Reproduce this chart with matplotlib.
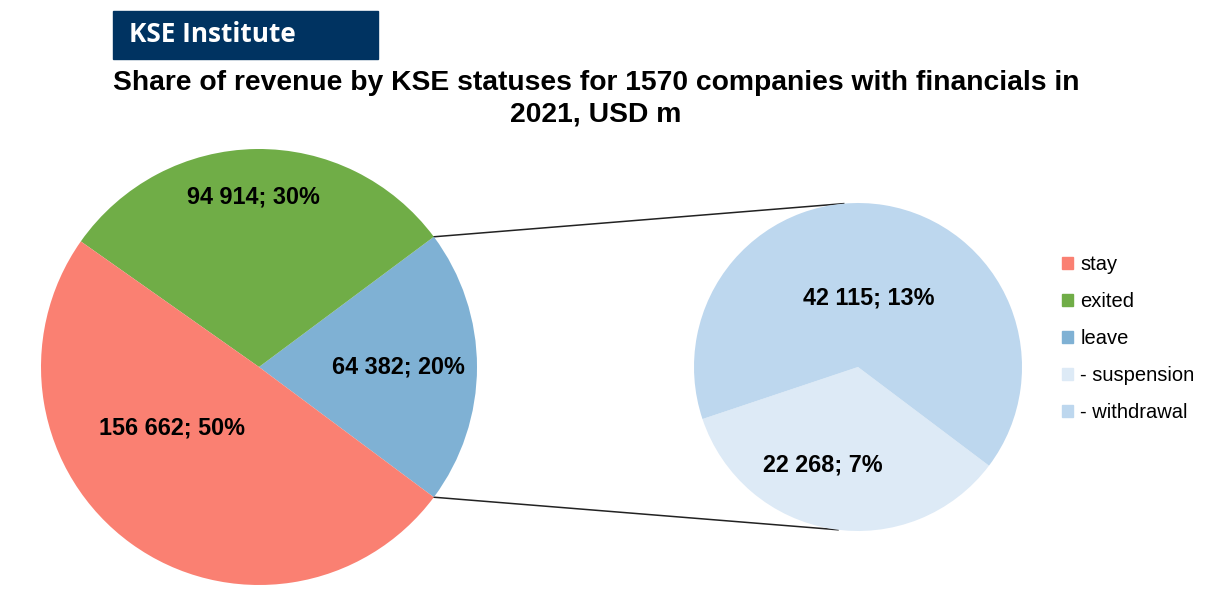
import matplotlib
matplotlib.use("Agg")
import matplotlib.pyplot as plt
from matplotlib.patches import Patch, Rectangle
import numpy as np

# data (USD m, 2021)
main_labels = ["stay", "exited", "leave"]
main_values = [156662, 94914, 64382]
sub_labels = ["- suspension", "- withdrawal"]
sub_values = [22268, 42115]

main_colors = ["#FA8072", "#70AD47", "#7FB1D4"]
sub_colors = ["#DDEAF6", "#BDD7EE"]

title = "Share of revenue by KSE statuses for 1570 companies with financials in\n2021, USD m"

plt.rcParams['font.family'] = ['Liberation Sans', 'DejaVu Sans']

W, H = 1231, 593
fig = plt.figure(figsize=(W / 100, H / 100), dpi=100)
ax = fig.add_axes([0, 0, 1, 1])

total = sum(main_values)

def fmt(v):
    return f"{v:,}".replace(",", " ") + f"; {v / total * 100:.0f}%"

# left pie: leave wedge centred on the right side
cL, rL = (259, H - 367), 218
leave_deg = 360 * main_values[2] / total
order = [2, 1, 0]
ax.pie([main_values[i] for i in order], colors=[main_colors[i] for i in order],
       center=cL, radius=rL, startangle=-leave_deg / 2, counterclock=True,
       wedgeprops=dict(linewidth=0))

# right pie: breakdown of leave
cR, rR = (858, H - 367), 164
ax.pie(sub_values, colors=sub_colors, center=cR, radius=rR,
       startangle=198.5, counterclock=True, wedgeprops=dict(linewidth=0))

# connector lines
a = np.deg2rad(leave_deg / 2)
for sgn, ang in [(1, 95), (-1, 263)]:
    x0 = cL[0] + rL * np.cos(a)
    y0 = cL[1] + sgn * rL * np.sin(a)
    x1 = cR[0] + rR * np.cos(np.deg2rad(ang))
    y1 = cR[1] + rR * np.sin(np.deg2rad(ang))
    ax.plot([x0, x1], [y0, y1], color="#222222", lw=1.1, zorder=0)

# data labels
label_pos_main = [(172, 428), (253, 197), (398, 367)]
for v, (x, y) in zip(main_values, label_pos_main):
    ax.text(x, H - y, fmt(v), ha="center", va="center", fontsize=16.8, fontweight="bold")
label_pos_sub = [(823, 465), (869, 298)]
for v, (x, y) in zip(sub_values, label_pos_sub):
    ax.text(x, H - y, fmt(v), ha="center", va="center", fontsize=16.8, fontweight="bold")

ax.set_xlim(0, W)
ax.set_ylim(0, H)
ax.set_aspect("equal")
ax.axis("off")

# header box
ax.add_patch(Rectangle((113, H - 59), 265, 48, color="#003361", zorder=3))
ax.text(129, H - 35, "KSE Institute", color="white", fontsize=18.8, fontweight="bold",
        va="center", ha="left", family=["Open Sans", "DejaVu Sans"], zorder=4)

ax.text(596, H - 99, title, ha="center", va="center", fontsize=20.3, fontweight="bold",
        linespacing=1.28)

# legend
handles = [Patch(color=c, label=l) for c, l in
           zip(main_colors + sub_colors, main_labels + sub_labels)]
ax.legend(handles=handles, loc="upper left", bbox_to_anchor=(1054 / W, 1 - 247 / H),
          frameon=False, fontsize=14.5, handlelength=0.55, handleheight=0.55,
          handletextpad=0.35, labelspacing=0.89, borderaxespad=0)

fig.savefig("out.png", dpi=100)
